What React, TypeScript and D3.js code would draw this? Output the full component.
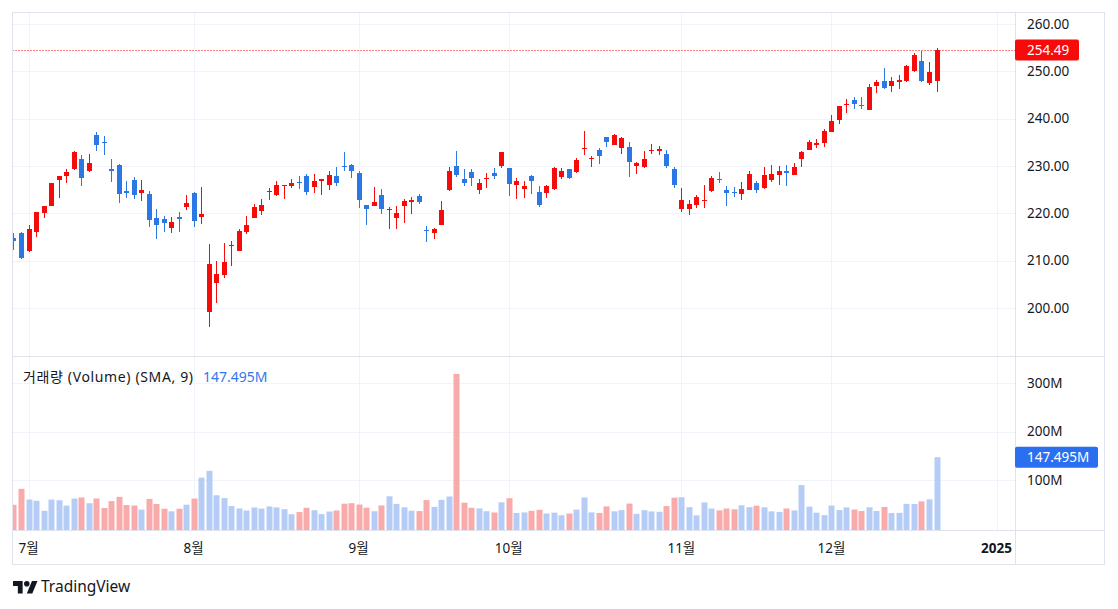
import React from "react";
import * as d3 from "d3";

// ---- DATA (AAPL daily) ----
const dates = [
  "2024-06-27","2024-06-28",
  "2024-07-01","2024-07-02","2024-07-03","2024-07-05","2024-07-08","2024-07-09","2024-07-10","2024-07-11","2024-07-12","2024-07-15","2024-07-16","2024-07-17","2024-07-18","2024-07-19","2024-07-22","2024-07-23","2024-07-24","2024-07-25","2024-07-26","2024-07-29","2024-07-30","2024-07-31",
  "2024-08-01","2024-08-02","2024-08-05","2024-08-06","2024-08-07","2024-08-08","2024-08-09","2024-08-12","2024-08-13","2024-08-14","2024-08-15","2024-08-16","2024-08-19","2024-08-20","2024-08-21","2024-08-22","2024-08-23","2024-08-26","2024-08-27","2024-08-28","2024-08-29","2024-08-30",
  "2024-09-03","2024-09-04","2024-09-05","2024-09-06","2024-09-09","2024-09-10","2024-09-11","2024-09-12","2024-09-13","2024-09-16","2024-09-17","2024-09-18","2024-09-19","2024-09-20","2024-09-23","2024-09-24","2024-09-25","2024-09-26","2024-09-27","2024-09-30",
  "2024-10-01","2024-10-02","2024-10-03","2024-10-04","2024-10-07","2024-10-08","2024-10-09","2024-10-10","2024-10-11","2024-10-14","2024-10-15","2024-10-16","2024-10-17","2024-10-18","2024-10-21","2024-10-22","2024-10-23","2024-10-24","2024-10-25","2024-10-28","2024-10-29","2024-10-30","2024-10-31",
  "2024-11-01","2024-11-04","2024-11-05","2024-11-06","2024-11-07","2024-11-08","2024-11-11","2024-11-12","2024-11-13","2024-11-14","2024-11-15","2024-11-18","2024-11-19","2024-11-20","2024-11-21","2024-11-22","2024-11-25","2024-11-26","2024-11-27","2024-11-29",
  "2024-12-02","2024-12-03","2024-12-04","2024-12-05","2024-12-06","2024-12-09","2024-12-10","2024-12-11","2024-12-12","2024-12-13","2024-12-16","2024-12-17","2024-12-18","2024-12-19","2024-12-20",
];
const futureDates = ["2024-12-23","2024-12-24","2024-12-25","2024-12-26","2024-12-27","2024-12-30","2024-12-31","2025-01-01"];

const opens = [
  214.69, 215.77,
  212.09, 216.15, 220.0, 221.65, 227.09, 227.93, 229.3, 231.39, 228.92, 236.48, 235.0, 229.45, 230.28, 224.82, 227.01, 224.37, 224.0, 218.93, 218.7, 216.96, 219.19, 221.44,
  224.37, 219.15, 199.09, 205.3, 206.9, 213.11, 212.1, 216.07, 219.01, 220.57, 224.6, 223.92, 225.72, 225.77, 226.52, 227.79, 225.66, 226.76, 226.0, 227.92, 230.1, 230.19,
  228.55, 221.66, 221.63, 223.95, 220.82, 218.92, 221.46, 222.5, 223.58, 216.54, 215.75, 217.55, 224.99, 229.97, 227.34, 228.65, 224.93, 227.3, 228.46, 230.04,
  229.52, 225.89, 225.14, 227.9, 224.5, 224.3, 225.23, 227.78, 229.3, 228.7, 233.61, 231.6, 233.43, 236.18, 234.45, 233.89, 234.08, 229.98, 229.74, 233.32, 233.1, 232.61, 229.34,
  220.97, 220.99, 221.8, 222.61, 224.63, 227.17, 225.0, 224.55, 224.01, 225.02, 226.4, 225.25, 226.98, 228.06, 228.88, 228.06, 231.46, 233.33, 234.47, 234.81,
  237.27, 239.81, 242.87, 243.99, 242.91, 241.83, 246.89, 247.96, 246.89, 247.82, 247.99, 250.08, 252.16, 247.5, 248.04,
];
const highs = [
  215.74, 216.07,
  217.51, 220.38, 221.55, 226.45, 227.85, 229.4, 233.08, 232.39, 232.64, 237.23, 236.27, 231.46, 230.44, 226.8, 227.78, 226.94, 224.8, 220.85, 219.49, 219.3, 220.33, 223.82,
  224.48, 225.6, 213.5, 209.99, 213.64, 214.2, 216.78, 219.51, 221.89, 223.03, 225.35, 226.83, 225.99, 227.17, 227.98, 228.34, 228.22, 227.28, 228.85, 229.86, 232.92, 230.4,
  229.0, 221.78, 225.48, 225.24, 221.27, 221.48, 223.09, 223.55, 224.04, 217.22, 216.9, 222.71, 229.82, 233.09, 229.45, 229.35, 227.29, 228.5, 229.52, 233.0,
  229.65, 227.37, 226.81, 228.0, 225.69, 225.98, 229.75, 229.5, 229.41, 231.73, 237.49, 232.12, 233.85, 236.18, 236.85, 236.22, 235.14, 230.82, 233.22, 234.73, 234.33, 233.47, 229.83,
  225.35, 222.79, 223.95, 226.07, 227.88, 228.66, 225.7, 225.59, 226.65, 228.87, 226.92, 229.74, 230.16, 229.93, 230.16, 230.72, 233.25, 235.57, 235.69, 237.81,
  240.79, 242.76, 244.11, 244.54, 244.63, 247.24, 248.21, 250.8, 248.74, 249.29, 251.38, 253.83, 254.28, 252.0, 255.0,
];
const lows = [
  212.35, 210.3,
  211.92, 215.1, 219.03, 221.65, 223.25, 226.37, 229.25, 225.77, 228.68, 233.09, 232.33, 226.64, 222.27, 223.28, 223.09, 222.68, 217.13, 214.62, 216.01, 215.75, 216.12, 220.63,
  217.02, 217.71, 196.0, 201.07, 206.39, 208.83, 211.97, 215.6, 219.01, 219.7, 222.76, 223.65, 223.04, 225.45, 225.05, 223.9, 224.33, 223.89, 224.89, 225.68, 228.88, 227.48,
  221.17, 217.48, 221.52, 219.77, 216.71, 216.73, 217.89, 219.82, 221.91, 213.92, 214.5, 217.54, 224.63, 227.62, 225.81, 225.73, 224.02, 225.41, 227.3, 229.65,
  223.74, 223.02, 223.32, 224.13, 221.33, 223.25, 224.83, 227.17, 227.34, 228.6, 232.37, 229.84, 230.52, 234.01, 234.45, 232.6, 227.76, 228.41, 229.57, 232.55, 232.32, 229.55, 225.37,
  220.27, 219.71, 221.14, 221.19, 224.57, 226.41, 221.5, 223.36, 222.76, 225.0, 224.27, 225.17, 226.66, 225.89, 225.71, 228.06, 229.74, 233.33, 233.81, 233.97,
  237.16, 238.9, 241.25, 242.13, 242.08, 241.75, 245.34, 246.26, 245.68, 246.24, 247.65, 249.78, 247.74, 247.09, 245.69,
];
const closes = [
  214.1, 210.62,
  216.75, 220.27, 221.55, 226.34, 227.82, 228.68, 232.98, 227.57, 230.54, 234.4, 234.82, 228.88, 224.18, 224.31, 223.96, 225.01, 218.54, 217.49, 217.96, 218.24, 218.8, 222.08,
  218.36, 219.86, 209.27, 207.23, 209.82, 213.31, 216.24, 217.53, 221.27, 221.72, 224.72, 226.05, 225.89, 226.51, 226.4, 224.53, 226.84, 227.18, 228.03, 226.49, 229.79, 229.0,
  222.77, 220.85, 222.38, 220.82, 220.91, 220.11, 222.66, 222.77, 222.5, 216.32, 216.79, 220.69, 228.87, 228.2, 226.47, 227.37, 226.37, 227.52, 227.79, 233.0,
  226.21, 226.78, 225.67, 226.8, 221.69, 225.77, 229.54, 229.04, 227.55, 231.3, 233.85, 231.78, 232.15, 235.0, 236.48, 235.86, 230.76, 230.57, 231.41, 233.4, 233.67, 230.1, 225.91,
  222.91, 222.01, 223.45, 222.72, 227.48, 226.96, 224.23, 224.23, 225.12, 228.22, 225.0, 228.02, 228.28, 229.0, 228.52, 229.87, 232.87, 235.06, 234.93, 237.33,
  239.59, 242.65, 243.01, 243.04, 242.84, 246.75, 247.77, 246.49, 247.96, 248.13, 251.04, 253.48, 248.05, 249.79, 254.49,
];
// volume in millions
const volumes = [
  49.8, 82.5,
  60.4, 58.0, 37.4, 60.4, 59.1, 48.1, 62.6, 64.7, 53.0, 62.6, 43.2, 57.3, 66.0, 49.2, 48.2, 39.9, 61.8, 51.4, 41.6, 36.3, 41.6, 50.0,
  62.5, 105.6, 119.5, 69.4, 63.5, 47.2, 42.2, 38.0, 44.2, 41.9, 46.4, 44.3, 40.7, 30.3, 34.8, 43.7, 38.7, 30.6, 35.9, 38.1, 51.9, 53.0,
  50.2, 43.8, 36.6, 48.4, 67.2, 51.6, 44.6, 37.5, 36.8, 59.4, 45.5, 59.9, 66.8, 318.7, 54.1, 43.6, 42.3, 36.6, 34.0, 54.8,
  63.3, 32.9, 34.0, 37.3, 39.5, 31.9, 33.6, 28.2, 31.8, 39.9, 64.8, 34.1, 33.0, 46.4, 36.3, 38.8, 52.3, 31.1, 38.8, 36.1, 35.4, 47.1, 64.4,
  65.3, 44.9, 28.1, 54.6, 42.1, 38.3, 42.0, 40.4, 48.6, 44.9, 47.9, 44.6, 36.2, 35.2, 42.1, 38.2, 90.2, 46.0, 33.5, 28.5,
  48.1, 38.9, 44.4, 40.0, 36.9, 44.6, 36.9, 45.2, 32.8, 33.2, 51.7, 51.4, 56.8, 60.9, 147.495,
];

const priceTicks = [200, 210, 220, 230, 240, 250, 260];
const volumeTicks = [100, 200, 300];
const timeTickDates = ["2024-07-01", "2024-08-01", "2024-09-03", "2024-10-01", "2024-11-01", "2024-12-02", "2025-01-01"];
const timeTickLabels = ["7월", "8월", "9월", "10월", "11월", "12월", "2025"];

const lastPriceLabel = "254.49";
const lastVolumeLabel = "147.495M";
const volumeLegend = "거래량 (Volume) (SMA, 9)";

// ---- STYLE ----
const W = 1118;
const H = 609;
const UP = "#f70a0a";
const DOWN = "#2b78e4";
const VOL_UP = "#b5cdf6";
const VOL_DOWN = "#f9aaaa";
const GRID = "#f0f3fa";
const BORDER = "#e0e3eb";
const TEXT = "#131722";
const FONT = "'Noto Sans', 'Noto Sans CJK KR', sans-serif";

const L = 12.5, R = 1015.5, OUTER_R = 1104.5;
const PRICE_TOP = 12.5, PRICE_BOTTOM = 356.5, VOL_BOTTOM = 530.5, AXIS_BOTTOM = 564.5;

export default function App() {
  const allDates = dates.concat(futureDates);
  const idx = (d: string) => allDates.indexOf(d);

  const x = d3.scaleLinear().domain([2, 123]).range([28.5, 936.5]);
  const yP = d3.scaleLinear().domain([200, 260]).range([308, 24]);
  const yV = d3.scaleLinear().domain([0, 300]).range([529, 383]);

  const bars = dates.map((d, i) => ({
    d, i, o: opens[i], h: highs[i], l: lows[i], c: closes[i], v: volumes[i],
    up: closes[i] >= opens[i],
  }));

  const lastClose = closes[closes.length - 1];
  const lastVol = volumes[volumes.length - 1];

  return (
    <svg width={W} height={H} style={{ position: "absolute", left: 0, top: 0, background: "#fff" }} fontFamily={FONT}>
      <defs>
        <clipPath id="priceClip"><rect x={L} y={PRICE_TOP} width={R - L} height={PRICE_BOTTOM - PRICE_TOP} /></clipPath>
        <clipPath id="volClip"><rect x={L} y={PRICE_BOTTOM} width={R - L} height={VOL_BOTTOM - PRICE_BOTTOM} /></clipPath>
      </defs>
      <rect x={0} y={0} width={W} height={H} fill="#fff" />

      {/* grid */}
      <g stroke={GRID} strokeWidth={1}>
        {priceTicks.map((t) => (
          <line key={"pg" + t} x1={L} x2={R} y1={Math.round(yP(t)) + 0.5} y2={Math.round(yP(t)) + 0.5} />
        ))}
        {volumeTicks.map((t) => (
          <line key={"vg" + t} x1={L} x2={R} y1={Math.round(yV(t)) + 0.5} y2={Math.round(yV(t)) + 0.5} />
        ))}
        {timeTickDates.map((d) => {
          const xx = Math.round(x(idx(d))) + 0.5;
          return <line key={"tg" + d} x1={xx} x2={xx} y1={PRICE_TOP} y2={VOL_BOTTOM} />;
        })}
      </g>

      {/* last price dotted line */}
      <line x1={L} x2={R} y1={Math.round(yP(lastClose)) + 0.5} y2={Math.round(yP(lastClose)) + 0.5}
        stroke={UP} strokeWidth={1} strokeDasharray="1 2" />

      {/* candles */}
      <g clipPath="url(#priceClip)">
        {bars.map((b) => {
          const xc = Math.round(x(b.i));
          const col = b.up ? UP : DOWN;
          const top = Math.round(yP(Math.max(b.o, b.c)));
          const bot = Math.round(yP(Math.min(b.o, b.c)));
          const hy = Math.round(yP(b.h));
          const ly = Math.round(yP(b.l));
          return (
            <g key={b.d} fill={col}>
              <rect x={xc} y={hy} width={1} height={Math.max(1, ly - hy)} />
              <rect x={xc - 2} y={top} width={5} height={Math.max(1, bot - top)} />
            </g>
          );
        })}
      </g>

      {/* volume */}
      <g clipPath="url(#volClip)">
        {bars.map((b) => {
          const xc = Math.round(x(b.i));
          const top = yV(b.v);
          return (
            <rect key={"v" + b.d} x={xc - 2.5} y={top} width={6} height={yV(0) - top + 1}
              fill={b.up ? VOL_UP : VOL_DOWN} />
          );
        })}
      </g>

      {/* volume legend */}
      <text x={23} y={377} dy="0.35em" fontSize={14} fill={TEXT} textLength={170} lengthAdjust="spacing">{volumeLegend}</text>
      <text x={203} y={377} dy="0.35em" fontSize={14} fill="#2f78ee">{lastVolumeLabel}</text>

      {/* borders */}
      <g stroke={BORDER} strokeWidth={1} fill="none">
        <rect x={L} y={PRICE_TOP} width={OUTER_R - L} height={AXIS_BOTTOM - PRICE_TOP} />
        <line x1={L} x2={OUTER_R} y1={PRICE_BOTTOM} y2={PRICE_BOTTOM} />
        <line x1={L} x2={OUTER_R} y1={VOL_BOTTOM} y2={VOL_BOTTOM} />
        <line x1={R} x2={R} y1={PRICE_TOP} y2={AXIS_BOTTOM} />
      </g>

      {/* price axis labels */}
      <g fontSize={13.5} fill={TEXT}>
        {priceTicks.map((t) => (
          <text key={"pl" + t} x={1027} y={yP(t)} dy="0.35em">{t.toFixed(2)}</text>
        ))}
        {volumeTicks.map((t) => (
          <text key={"vl" + t} x={1027} y={yV(t)} dy="0.35em">{t + "M"}</text>
        ))}
      </g>

      {/* last price label */}
      <rect x={R - 0.5} y={yP(lastClose) - 10.5} width={64} height={21} rx={2} fill={UP} />
      <text x={1027} y={yP(lastClose)} dy="0.35em" fontSize={13.5} fill="#fff">{lastPriceLabel}</text>

      {/* last volume label */}
      <rect x={R - 0.5} y={yV(lastVol) - 10.5} width={83} height={21} rx={2} fill="#2a6ff0" />
      <text x={1027} y={yV(lastVol)} dy="0.35em" fontSize={13.5} fill="#fff">{lastVolumeLabel}</text>

      {/* time axis */}
      <g fontSize={13.5} fill={TEXT} textAnchor="middle">
        {timeTickDates.map((d, k) => (
          <text key={"tl" + d} x={x(idx(d))} y={548} dy="0.35em"
            fontWeight={timeTickLabels[k] === "2025" ? 700 : 400}>{timeTickLabels[k]}</text>
        ))}
      </g>

      {/* TradingView logo */}
      <g transform="translate(13,581) scale(0.69,0.7) translate(0,-4)" fill={TEXT}>
        <path d="M14 22H7V11H0V4h14v18z" />
        <circle cx={20} cy={8} r={4} />
        <path d="M28 22h-8l7.5-18h8L28 22z" />
      </g>
      <text x={41} y={587} dy="0.35em" fontSize={15.5} fill={TEXT}>TradingView</text>
    </svg>
  );
}
